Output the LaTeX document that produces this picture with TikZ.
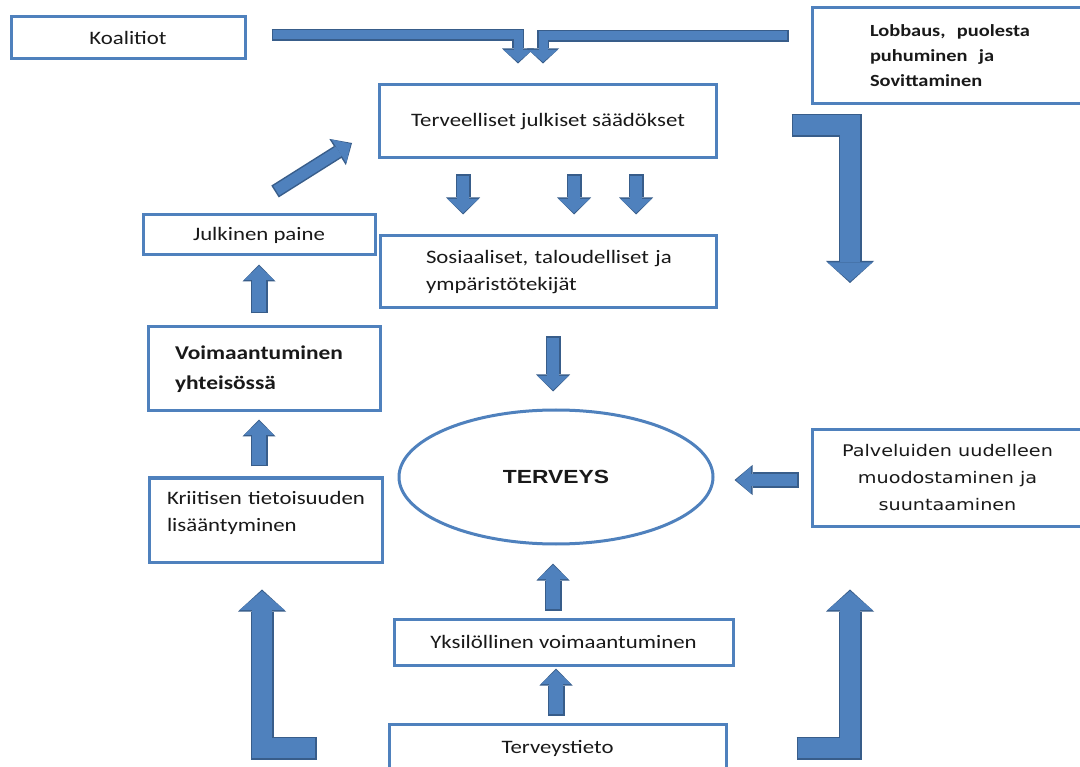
\documentclass[tikz,border=0pt]{standalone}
\usepackage{fontspec}
\setmainfont{Carlito}[FakeStretch=1.2]
\newfontfamily\verdfont{DejaVu Sans}[FakeStretch=1.2]
\newfontfamily\arialfont{Liberation Sans}[FakeStretch=1.2]
\usepackage{xcolor}
\usepackage{tikz}
\usetikzlibrary{positioning, arrows.meta, shapes.geometric}

\definecolor{boxblue}{HTML}{4F81BD}
\definecolor{barblue}{HTML}{4F81BD}
\definecolor{bardark}{HTML}{385D8A}

\begin{document}
\begin{tikzpicture}[
    x=1pt, y=-1pt,
    box/.style={
        draw=boxblue, line width=3pt, fill=white, inner sep=0pt,
        align=center, text=black!90, font=\fontsize{19}{27}\selectfont
    },
    leftbox/.style={box, align=left},
    blockarr/.style n args={3}{
        draw=barblue, line width=#1, line cap=butt, line join=miter,
        -{Triangle[length=#3, width=#2, line width=0pt]},
        shorten <=1.5pt, shorten >=1.5pt,
        preaction={draw=bardark, line width=#1+3pt, shorten <=0pt, shorten >=0pt,
            -{Triangle[length=#3+3pt, width=#2+3pt, line width=0pt]}}
    },
    thinarr/.style={blockarr={9pt}{29pt}{12pt}},
    midarr/.style={blockarr={12pt}{31pt}{14pt}},
    smallarr/.style={blockarr={14pt}{30pt}{14pt}},
    bigarr/.style={blockarr={20pt}{45pt}{19pt}},
]

% Page
\path[use as bounding box, fill=white] (0,0) rectangle (1080,767);

% Top row
\node[box, minimum width=234pt, minimum height=42pt] (koal) at (128,38) {Koalitiot};
\node[leftbox, minimum height=96pt, text width=155pt, inner xsep=58pt,
    font=\fontsize{17}{25}\selectfont\bfseries] (lobby) at (947.5,56)
    {\mbox{Lobbaus,~ puolesta}\\\mbox{puhuminen~ ja}\\Sovittaminen};

% Policy and factors
\node[box, minimum width=337pt, minimum height=73pt] (terv) at (548,121.5) {Terveelliset julkiset säädökset};
\node[leftbox, minimum height=72pt, text width=244pt, inner xsep=46pt] (sos) at (548,272)
    {\mbox{Sosiaaliset, taloudelliset ja}\\ympäristötekijät};

% Left column
\node[box, minimum width=232pt, minimum height=40pt] (julk) at (259,235) {Julkinen paine};
\node[leftbox, minimum height=84pt, text width=178pt, inner xsep=27pt,
    font=\fontsize{19.5}{30}\selectfont\bfseries] (voim) at (264,369) {Voimaantuminen\\yhteisössä};
\node[leftbox, minimum height=84pt, text width=197pt, inner xsep=18pt] (krit) at (265.5,520)
    {\mbox{Kriitisen tietoisuuden}\\lisääntyminen\\[-10pt]\mbox{}};

% Health
\node[box, ellipse, minimum width=314pt, minimum height=134pt,
    font=\arialfont\bfseries\fontsize{19}{23}\selectfont] (health) at (556,477) {TERVEYS};
\node[box, minimum width=271pt, minimum height=96pt,
    font=\verdfont\fontsize{16}{27}\selectfont] (pal) at (947.5,478)
    {Palveluiden uudelleen\\muodostaminen ja\\suuntaaminen};

% Bottom
\node[box, minimum width=339pt, minimum height=46pt] (yks) at (563.5,642) {Yksilöllinen voimaantuminen};
\node[box, minimum width=337pt, minimum height=48pt] (tieto) at (557.5,748) {Terveystieto};

\coordinate (rtip) at (850,283);

% Coalitions and lobbying -> policy
\draw[thinarr] ([xshift=25pt, yshift=3pt]koal.east) -| ([xshift=-30pt, yshift=20pt]terv.north);
\draw[thinarr] ([xshift=-22pt, yshift=20pt]lobby.west) -| ([xshift=-5pt, yshift=20pt]terv.north);
\draw[bigarr] ([xshift=-19pt, yshift=-20pt]lobby.south west) -| (rtip);

% Policy -> factors -> health
\foreach \dx in {-85, 26, 88}
    \draw[midarr] ([xshift=\dx, yshift=-15pt]terv.south) -- ([xshift=\dx, yshift=20pt]sos.north);
\draw[midarr] ([xshift=5pt, yshift=-27pt]sos.south) -- ([xshift=-3pt, yshift=17pt]health.north);

% Services -> health
\draw[blockarr={12pt}{27pt}{15pt}] ([xshift=-12pt, yshift=-2pt]pal.west) -- ([xshift=20pt, yshift=-3pt]health.east);

% Knowledge -> individual -> health
\draw[smallarr] ([xshift=-1.5pt, yshift=7pt]tieto.north) -- ([xshift=-7.5pt, yshift=-2pt]yks.south);
\draw[smallarr] ([xshift=-10.5pt, yshift=7pt]yks.north) -- ([xshift=-3pt, yshift=-18pt]health.south);

% Left column upwards
\draw[smallarr] ([xshift=-6.5pt, yshift=10pt]krit.north) -- ([xshift=-5pt, yshift=-7pt]voim.south);
\draw[smallarr] ([xshift=-5pt, yshift=12pt]voim.north) -- ([yshift=-8pt]julk.south);
\draw[blockarr={11pt}{28pt}{14pt}] ([xshift=16pt, yshift=22pt]julk.north) -- ([xshift=-26pt, yshift=-21.5pt]terv.west);

% Knowledge -> both sides
\draw[bigarr] ([xshift=-71pt]tieto.west) -| ([xshift=-3.5pt, yshift=-26pt]krit.south);
\draw[bigarr] ([xshift=69pt]tieto.east) -| ([xshift=-97.5pt, yshift=-62pt]pal.south);

\end{tikzpicture}
\end{document}
